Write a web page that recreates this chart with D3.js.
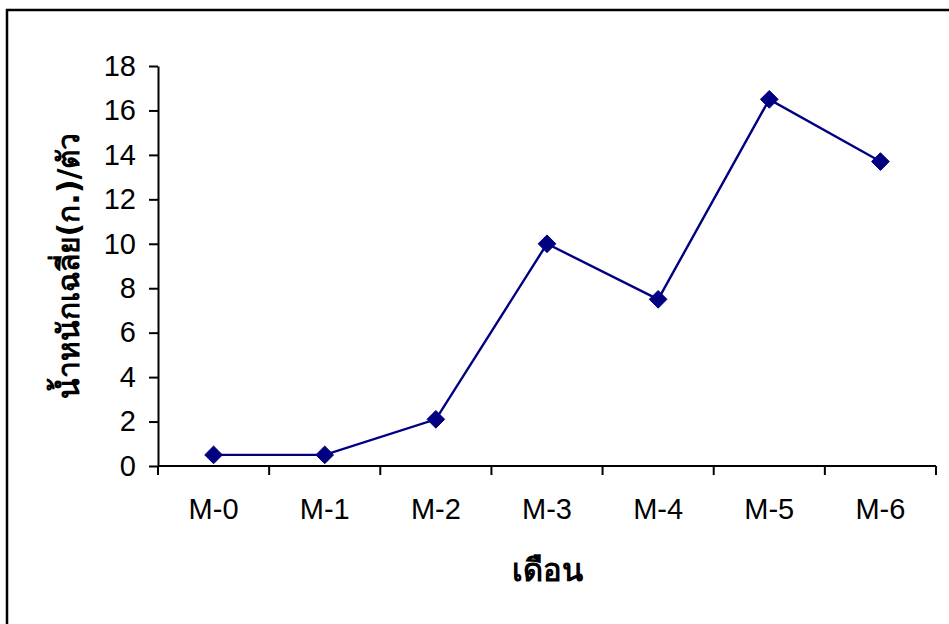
<!DOCTYPE html>
<html>
<head>
<meta charset="utf-8">
<script src="https://cdn.jsdelivr.net/npm/d3@7"></script>
<style>
  body { margin: 0; background: #fff; }
</style>
</head>
<body>
<div id="chart"></div>
<script>
const months = ["M-0", "M-1", "M-2", "M-3", "M-4", "M-5", "M-6"];
const weights = [0.5, 0.5, 2.1, 10, 7.5, 16.5, 13.7];
const yTicks = [0, 2, 4, 6, 8, 10, 12, 14, 16, 18];

const width = 949;
const height = 624;
const margin = { left: 158, right: 13, top: 66, bottom: 158 };

const svg = d3.select("#chart")
  .append("svg")
  .attr("width", width)
  .attr("height", height);

// outer frame (right and bottom edges fall outside the picture)
svg.append("rect")
  .attr("x", 7)
  .attr("y", 10)
  .attr("width", 960)
  .attr("height", 640)
  .attr("fill", "none")
  .attr("stroke", "#000")
  .attr("stroke-width", 2.5);

const x = d3.scaleBand()
  .domain(months)
  .range([margin.left, width - margin.right]);

const y = d3.scaleLinear()
  .domain([0, 18])
  .range([height - margin.bottom, margin.top]);

const font = "Arial, 'Liberation Sans', sans-serif";
const thaiFont = "Tahoma, 'DejaVu Sans', 'Noto Sans', sans-serif";

// y axis
const yAxis = svg.append("g")
  .attr("transform", `translate(${margin.left},0)`)
  .call(d3.axisLeft(y).tickValues(yTicks).tickSize(9).tickPadding(13).tickSizeOuter(0));
yAxis.select(".domain").attr("stroke", "#000").attr("stroke-width", 2);
yAxis.selectAll(".tick line").attr("stroke-width", 2);
yAxis.selectAll("text")
  .attr("font-family", font)
  .attr("font-size", "29px")
  .attr("fill", "#000");

// x axis with ticks between categories
const xAxis = svg.append("g")
  .attr("transform", `translate(0,${y(0)})`);
xAxis.append("line")
  .attr("x1", margin.left)
  .attr("x2", width - margin.right)
  .attr("stroke", "#000")
  .attr("stroke-width", 2);
xAxis.selectAll("line.tick")
  .data(months.concat(["end"]))
  .join("line")
  .attr("class", "tick")
  .attr("x1", (d, i) => margin.left + i * x.step())
  .attr("x2", (d, i) => margin.left + i * x.step())
  .attr("y1", 0)
  .attr("y2", 9)
  .attr("stroke", "#000")
  .attr("stroke-width", 2);
xAxis.selectAll("text")
  .data(months)
  .join("text")
  .attr("x", (d) => x(d) + x.bandwidth() / 2)
  .attr("y", 53)
  .attr("text-anchor", "middle")
  .attr("font-family", font)
  .attr("font-size", "29px")
  .attr("fill", "#000")
  .text((d) => d);

// axis titles
svg.append("text")
  .attr("x", 547)
  .attr("y", 581)
  .attr("text-anchor", "middle")
  .attr("font-family", thaiFont)
  .attr("font-weight", "bold")
  .attr("font-size", "31px")
  .attr("fill", "#000")
  .text("เดือน");

svg.append("text")
  .attr("transform", `translate(79,266) rotate(-90)`)
  .attr("text-anchor", "middle")
  .attr("font-family", thaiFont)
  .attr("font-weight", "bold")
  .attr("font-size", "30px")
  .attr("fill", "#000")
  .text("น้ำหนักเฉลี่ย(ก.)/ตัว");

// line
const line = d3.line()
  .x((d, i) => x(months[i]) + x.bandwidth() / 2)
  .y((d) => y(d));

svg.append("path")
  .datum(weights)
  .attr("d", line)
  .attr("fill", "none")
  .attr("stroke", "#000080")
  .attr("stroke-width", 2.4);

svg.append("g")
  .selectAll("path")
  .data(weights)
  .join("path")
  .attr("transform", (d, i) => `translate(${x(months[i]) + x.bandwidth() / 2},${y(d)})`)
  .attr("d", d3.symbol(d3.symbolDiamond2, 200))
  .attr("fill", "#000080")
  .attr("stroke", "#000080")
  .attr("stroke-width", 1);
</script>
</body>
</html>
